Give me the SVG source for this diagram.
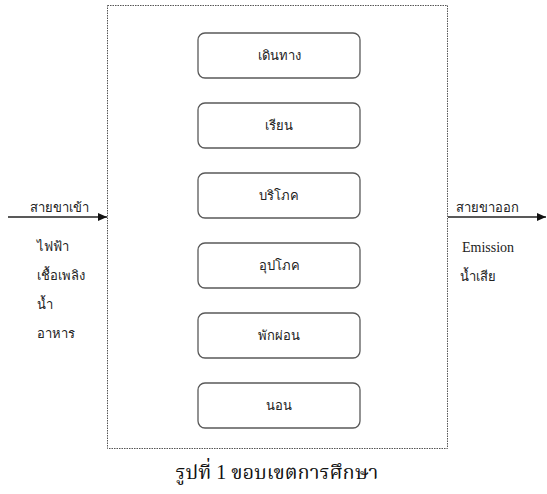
<svg xmlns="http://www.w3.org/2000/svg" width="547" height="494" viewBox="0 0 547 494">
<defs>
<style>
.node rect{fill:#fff;stroke:#595959;stroke-width:1.3}
.t{font-family:"Noto Sans","DejaVu Sans",sans-serif;font-size:13px;fill:#222;text-anchor:middle}
.l{font-family:"Noto Sans","DejaVu Sans",sans-serif;font-size:13px;fill:#222}
.s{font-family:"Liberation Serif",serif;font-size:14px;fill:#222}
.cap{font-family:"Liberation Serif","Noto Serif Thai","Noto Serif",serif;font-size:20px;fill:#111;text-anchor:middle}
.conn{stroke:#222;stroke-width:1.3;fill:none}
</style>
<marker id="ah" markerWidth="10" markerHeight="10" refX="9" refY="5" orient="auto" markerUnits="userSpaceOnUse">
<path d="M0,1 L9,5 L0,9 Z" fill="#111"/>
</marker>
</defs>
<rect width="547" height="494" fill="#fff"/>
<g id="boundary">
<rect x="107.5" y="5.5" width="340" height="443" fill="none" stroke="#555" stroke-width="1" stroke-dasharray="1.5 1"/>
</g>
<g id="n1" class="node"><rect x="198" y="33" width="162" height="45" rx="7"/><text class="t" x="279" y="60">เดินทาง</text></g>
<g id="n2" class="node"><rect x="198" y="103" width="162" height="45" rx="7"/><text class="t" x="279" y="130">เรียน</text></g>
<g id="n3" class="node"><rect x="198" y="173" width="162" height="45" rx="7"/><text class="t" x="279" y="200">บริโภค</text></g>
<g id="n4" class="node"><rect x="198" y="243" width="162" height="45" rx="7"/><text class="t" x="279" y="270">อุปโภค</text></g>
<g id="n5" class="node"><rect x="198" y="313" width="162" height="45" rx="7"/><text class="t" x="279" y="340">พักผ่อน</text></g>
<g id="n6" class="node"><rect x="198" y="383" width="162" height="45" rx="7"/><text class="t" x="279" y="410">นอน</text></g>
<g id="connectors">
<line class="conn" x1="8" y1="217" x2="107" y2="217" marker-end="url(#ah)"/>
<line class="conn" x1="448" y1="217" x2="546" y2="217" marker-end="url(#ah)"/>
</g>
<g id="labels">
<text class="l" x="30" y="212">สายขาเข้า</text>
<text class="l" x="37" y="251">ไฟฟ้า</text>
<text class="l" x="37" y="280">เชื้อเพลิง</text>
<text class="l" x="37" y="309">น้ำ</text>
<text class="l" x="37" y="338">อาหาร</text>
<text class="l" x="456" y="212">สายขาออก</text>
<text class="s" x="462" y="252">Emission</text>
<text class="l" x="460" y="281">น้ำเสีย</text>
</g>
<text class="cap" x="277" y="479">รูปที่ 1 ขอบเขตการศึกษา</text>
</svg>
